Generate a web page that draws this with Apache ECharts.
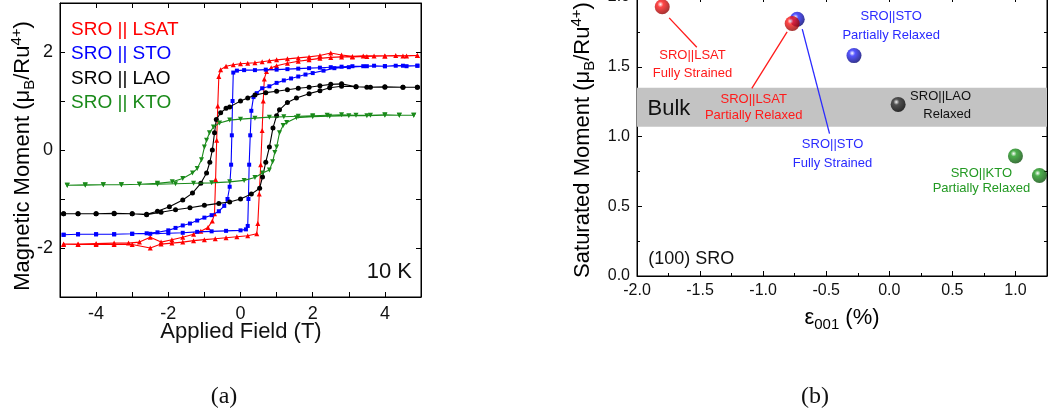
<!DOCTYPE html>
<html><head><meta charset="utf-8">
<script src="https://cdn.jsdelivr.net/npm/echarts@6/dist/echarts.min.js"></script>
<style>html,body{margin:0;padding:0;background:#fff}#c{width:1048px;height:414px}</style>
</head><body><div id="c"></div>
<script>
// ---------- Panel (a): hysteresis loops (H in T, M in muB/Ru4+) ----------
const lsatLoop = [
 [4.9,1.93],[4.6,1.92],[4.3,1.93],[4.0,1.92],[3.7,1.92],[3.4,1.92],[3.1,1.91],[2.8,1.94],[2.5,1.98],[2.2,1.93],[1.9,1.9],[1.6,1.88],[1.3,1.86],[1.0,1.84],[0.8,1.82],[0.6,1.8],[0.4,1.78],[0.2,1.77],[0.0,1.76],[-0.2,1.74],[-0.4,1.71],[-0.55,1.64],[-0.6,1.5],[-0.63,0.9],[-0.66,0.2],[-0.69,-0.6],[-0.72,-1.3],[-0.78,-1.45],[-0.9,-1.58],[-1.1,-1.66],[-1.3,-1.72],[-1.6,-1.78],[-1.9,-1.83],[-2.2,-1.88],[-2.5,-1.78],[-2.8,-1.88],[-3.1,-1.9],[-3.5,-1.9],[-4.0,-1.91],[-4.5,-1.92],[-4.9,-1.92],
 [-4.9,-1.93],[-4.5,-1.93],[-4.0,-1.93],[-3.5,-1.93],[-3.0,-1.93],[-2.5,-2.0],[-2.2,-1.92],[-1.9,-1.9],[-1.6,-1.88],[-1.3,-1.85],[-1.0,-1.83],[-0.7,-1.81],[-0.4,-1.79],[-0.1,-1.77],[0.2,-1.75],[0.45,-1.71],[0.48,-1.5],[0.52,-0.9],[0.56,-0.3],[0.6,0.4],[0.63,1.0],[0.66,1.45],[0.72,1.6],[0.85,1.68],[1.0,1.72],[1.3,1.77],[1.6,1.81],[1.9,1.84],[2.2,1.87],[2.5,1.89],[2.8,1.9],[3.1,1.9],[3.5,1.91],[4.0,1.92],[4.5,1.92],[4.9,1.93]
];
const stoLoop = [
 [4.9,1.72],[4.6,1.71],[4.3,1.72],[4.0,1.71],[3.7,1.72],[3.4,1.71],[3.1,1.71],[2.8,1.7],[2.5,1.69],[2.2,1.68],[1.9,1.67],[1.6,1.66],[1.3,1.65],[1.0,1.64],[0.7,1.64],[0.4,1.63],[0.1,1.63],[-0.1,1.62],[-0.2,1.58],[-0.22,1.0],[-0.24,0.3],[-0.26,-0.3],[-0.3,-0.75],[-0.36,-1.0],[-0.45,-1.14],[-0.6,-1.25],[-0.8,-1.33],[-1.0,-1.38],[-1.2,-1.44],[-1.4,-1.5],[-1.6,-1.54],[-1.8,-1.59],[-2.0,-1.64],[-2.3,-1.68],[-2.6,-1.7],[-3.0,-1.71],[-3.5,-1.72],[-4.0,-1.72],[-4.5,-1.72],[-4.9,-1.73],
 [-4.9,-1.73],[-4.5,-1.72],[-4.0,-1.72],[-3.5,-1.72],[-3.0,-1.71],[-2.5,-1.71],[-2.0,-1.7],[-1.6,-1.69],[-1.2,-1.67],[-0.8,-1.66],[-0.4,-1.65],[0.0,-1.64],[0.15,-1.62],[0.2,-1.55],[0.22,-1.0],[0.24,-0.3],[0.27,0.3],[0.3,0.8],[0.36,1.08],[0.45,1.16],[0.6,1.26],[0.8,1.3],[1.0,1.37],[1.2,1.42],[1.4,1.46],[1.6,1.5],[1.8,1.54],[2.0,1.57],[2.3,1.62],[2.6,1.67],[3.0,1.69],[3.5,1.71],[4.0,1.71],[4.5,1.72],[4.9,1.72]
];
const laoLoop = [
 [4.9,1.28],[4.5,1.28],[4.0,1.29],[3.5,1.28],[3.2,1.29],[2.8,1.35],[2.5,1.34],[2.2,1.31],[1.9,1.28],[1.6,1.26],[1.3,1.23],[1.0,1.2],[0.7,1.17],[0.4,1.12],[0.2,1.06],[0.0,1.0],[-0.3,0.88],[-0.4,0.85],[-0.55,0.76],[-0.67,0.62],[-0.72,0.35],[-0.78,0.0],[-0.85,-0.25],[-0.94,-0.47],[-1.1,-0.68],[-1.33,-0.88],[-1.6,-1.02],[-1.97,-1.16],[-2.3,-1.25],[-2.6,-1.31],[-3.0,-1.3],[-3.5,-1.29],[-4.0,-1.3],[-4.5,-1.3],[-4.9,-1.3],
 [-4.9,-1.3],[-4.5,-1.3],[-4.0,-1.3],[-3.5,-1.3],[-3.0,-1.3],[-2.6,-1.32],[-2.2,-1.27],[-1.8,-1.22],[-1.4,-1.18],[-1.0,-1.13],[-0.6,-1.09],[-0.3,-1.06],[0.0,-1.0],[0.3,-0.9],[0.53,-0.78],[0.61,-0.55],[0.7,-0.25],[0.8,0.06],[0.9,0.45],[1.0,0.7],[1.08,0.82],[1.3,0.97],[1.55,1.06],[1.9,1.15],[2.2,1.21],[2.47,1.27],[2.8,1.3],[3.2,1.29],[3.6,1.28],[4.0,1.28],[4.5,1.28],[4.9,1.28]
];
const ktoLoop = [
 [4.8,0.71],[4.4,0.71],[4.0,0.72],[3.6,0.71],[3.2,0.71],[2.8,0.72],[2.4,0.71],[2.0,0.7],[1.6,0.69],[1.2,0.68],[0.8,0.67],[0.4,0.65],[0.0,0.63],[-0.3,0.61],[-0.58,0.55],[-0.75,0.47],[-0.86,0.35],[-0.94,0.2],[-1.0,0.06],[-1.08,-0.2],[-1.2,-0.38],[-1.33,-0.47],[-1.6,-0.58],[-1.89,-0.65],[-2.3,-0.68],[-2.8,-0.7],[-3.3,-0.71],[-3.8,-0.71],[-4.3,-0.72],[-4.8,-0.72],
 [-4.8,-0.72],[-4.3,-0.71],[-3.8,-0.71],[-3.3,-0.71],[-2.8,-0.7],[-2.3,-0.7],[-1.8,-0.69],[-1.3,-0.68],[-0.8,-0.67],[-0.3,-0.65],[0.1,-0.62],[0.4,-0.56],[0.61,-0.47],[0.8,-0.41],[0.89,-0.24],[0.95,-0.05],[1.0,0.06],[1.08,0.35],[1.18,0.5],[1.28,0.56],[1.55,0.66],[2.0,0.68],[2.47,0.69],[3.0,0.7],[3.5,0.7],[4.0,0.71],[4.4,0.71],[4.8,0.71]
];
const loopNames = ['SRO || LSAT','SRO || STO','SRO || LAO','SRO || KTO'];

// ---------- Panel (b): saturated moment vs strain ----------
const strainLSAT = [[-1.8,1.93],[-0.77,1.81]];
const strainSTO  = [[-0.73,1.84],[-0.28,1.58]];
const strainLAO  = [[0.07,1.23]];
const strainKTO  = [[1.0,0.86],[1.19,0.72]];
const bulkRange  = [1.07,1.35];
const xTicksA = [-4,-2,0,2,4];
const yTicksA = [-2,0,2];

// annotation anchors (data coords of panel b)
const notes = [
 {t:'SRO||LSAT\nFully Strained', at:[-1.56,1.52], c:'#ff1a1a', lh:18},
 {t:'SRO||LSAT\nPartially Relaxed', at:[-1.075,1.21], c:'#ff1a1a', lh:16},
 {t:'SRO||STO\nFully Strained', at:[-0.45,0.875], c:'#2a2aff', lh:19},
 {t:'SRO||STO\nPartially Relaxed', at:[0.015,1.79], c:'#2a2aff', lh:19},
 {t:'SRO||LAO\nRelaxed', at:[0.648,1.223], c:'#111', lh:18, align:'right'},
 {t:'SRO||KTO\nPartially Relaxed', at:[0.73,0.68], c:'#229922', lh:15}
];
const arrows = [
 {from:[-1.526,1.64], to:[-1.745,1.85], c:'#ff1a1a'},
 {from:[-1.09,1.345], to:[-0.81,1.75], c:'#ff1a1a'},
 {from:[-0.474,1.02], to:[-0.69,1.77], c:'#2a2aff'}
];

const FONT = "'Liberation Sans', Arial, sans-serif";
const colA = ['#ff0000','#0000ff','#000000','#1a8a1a'];
const symA = ['triangle','rect','circle','triangle'];

function ball(base, dark){
  return {type:'radial', x:0.38, y:0.34, r:0.7, colorStops:[
    {offset:0,color:'#ffffff'},{offset:0.28,color:base},{offset:1,color:dark}]};
}

const chart = echarts.init(document.getElementById('c'), null, {renderer:'canvas'});

function valAxis(o){
  return Object.assign({
    type:'value', scale:false,
    axisLine:{show:true, onZero:false, lineStyle:{color:'#000', width:1}},
    axisTick:{show:true, inside:true, length:5, lineStyle:{color:'#000'}},
    splitLine:{show:false},
    axisLabel:{color:'#111', fontFamily:FONT}
  }, o);
}

const xAxes = [
  valAxis({gridIndex:0, position:'bottom', min:-5, max:5, interval:1,
    axisLabel:{color:'#111', fontFamily:FONT, fontSize:18, margin:8,
      formatter:v=> xTicksA.includes(v) ? String(v) : ''}}),
  valAxis({gridIndex:0, position:'top', min:-5, max:5, interval:1, axisLabel:{show:false}}),
  valAxis({gridIndex:1, position:'bottom', min:-2, max:1.25, interval:0.5,
    minorTick:{show:true, splitNumber:2, length:3, lineStyle:{color:'#000'}},
    axisLabel:{color:'#111', fontFamily:FONT, fontSize:16, margin:7, showMaxLabel:false,
      formatter:v=>v.toFixed(1)}}),
  valAxis({gridIndex:1, position:'top', min:-2, max:1.25, interval:0.5,
    minorTick:{show:true, splitNumber:2, length:3, lineStyle:{color:'#000'}}, axisLabel:{show:false}})
];
const yAxes = [
  valAxis({gridIndex:0, position:'left', min:-3, max:3, interval:1,
    axisLabel:{color:'#111', fontFamily:FONT, fontSize:18, margin:7,
      formatter:v=> yTicksA.includes(v) ? String(v) : ''}}),
  valAxis({gridIndex:0, position:'right', min:-3, max:3, interval:1, axisLabel:{show:false}}),
  valAxis({gridIndex:1, position:'left', min:0, max:2, interval:0.5,
    minorTick:{show:true, splitNumber:2, length:3, lineStyle:{color:'#000'}},
    axisLabel:{color:'#111', fontFamily:FONT, fontSize:16, margin:7, formatter:v=>v.toFixed(1)}}),
  valAxis({gridIndex:1, position:'right', min:0, max:2, interval:0.5,
    minorTick:{show:true, splitNumber:2, length:3, lineStyle:{color:'#000'}}, axisLabel:{show:false}})
];

const loops = [lsatLoop, stoLoop, laoLoop, ktoLoop];
const series = loops.map((d,i)=>({
  name: loopNames[i], type:'line', xAxisIndex:0, yAxisIndex:0, data:d,
  symbol: symA[i], symbolSize: i===1?4:5, symbolRotate: i===3?180:0, showAllSymbol:true,
  lineStyle:{color:colA[i], width:1.1}, itemStyle:{color:colA[i]}, animation:false, z:3+i
}));

function notePoints(list){
  return list.map(n=>({coord:n.at, symbol:'circle', symbolSize:1, itemStyle:{color:'rgba(0,0,0,0)'},
    label:{show:true, position:'inside', formatter:n.t, color:n.c, fontSize:13, lineHeight:n.lh,
      fontFamily:FONT, align:n.align||'center'}}));
}
function arrowLines(list){
  return list.map(a=>[{coord:a.from, lineStyle:{color:a.c, width:1.3, type:'solid'}},{coord:a.to}]);
}
const mlBase = {silent:true, symbol:['none','arrow'], symbolSize:[0,8], label:{show:false}, animation:false};

series.push({
  name:'LAO', type:'scatter', xAxisIndex:2, yAxisIndex:2, data:strainLAO, symbolSize:15,
  itemStyle:{color:ball('#333333','#000000')}, animation:false, z:5,
  markArea:{silent:true, itemStyle:{color:'#c3c3c3', opacity:1},
    data:[[{yAxis:bulkRange[0]},{yAxis:bulkRange[1]}]], z:1},
  markPoint:{silent:true, animation:false, data:[
    ...notePoints([notes[4]]),
    {coord:[-1.747,1.2], symbol:'circle', symbolSize:1, itemStyle:{color:'rgba(0,0,0,0)'},
      label:{show:true, position:'inside', formatter:'Bulk', color:'#111', fontSize:22, fontFamily:FONT}},
    {coord:[-1.57,0.12], symbol:'circle', symbolSize:1, itemStyle:{color:'rgba(0,0,0,0)'},
      label:{show:true, position:'inside', formatter:'(100) SRO', color:'#111', fontSize:18, fontFamily:FONT}}
  ]}
});
series.push({
  name:'KTO', type:'scatter', xAxisIndex:2, yAxisIndex:2, data:strainKTO, symbolSize:15,
  itemStyle:{color:ball('#1f9a1f','#0a4a0a')}, animation:false, z:5,
  markPoint:{silent:true, animation:false, data:notePoints([notes[5]])}
});
series.push({
  name:'STO', type:'scatter', xAxisIndex:2, yAxisIndex:2, data:strainSTO, symbolSize:15,
  itemStyle:{color:ball('#2a2aff','#00006a')}, animation:false, z:5,
  markPoint:{silent:true, animation:false, data:notePoints([notes[2],notes[3]])},
  markLine:Object.assign({}, mlBase, {data:arrowLines([arrows[2]])})
});
series.push({
  name:'LSAT', type:'scatter', xAxisIndex:2, yAxisIndex:2, data:strainLSAT, symbolSize:15,
  itemStyle:{color:ball('#ff1a1a','#8a0000')}, animation:false, z:6,
  markPoint:{silent:true, animation:false, data:notePoints([notes[0],notes[1]])},
  markLine:Object.assign({}, mlBase, {data:arrowLines([arrows[0],arrows[1]])})
});

const nameRich = {
  n:{fontSize:22, fontFamily:FONT, color:'#111', lineHeight:28, verticalAlign:'middle'},
  s:{fontSize:15, fontFamily:FONT, color:'#111', lineHeight:12, verticalAlign:'bottom'},
  p:{fontSize:15, fontFamily:FONT, color:'#111', lineHeight:12, verticalAlign:'top'}
};

chart.setOption({
  backgroundColor:'#fff',
  animation:false,
  grid:[
    {left:60, top:3, width:361, height:294, show:true, borderColor:'#000', borderWidth:1, backgroundColor:'transparent', containLabel:false, outerBoundsMode:'none'},
    {left:637, top:-3, width:410, height:279, show:true, borderColor:'#000', borderWidth:1, backgroundColor:'transparent', containLabel:false, outerBoundsMode:'none'}
  ],
  xAxis:xAxes, yAxis:yAxes,
  legend:{show:true, orient:'vertical', left:66, top:20, padding:0, itemGap:5.5, itemWidth:0, itemHeight:18,
    selectedMode:false, icon:'rect',
    textStyle:{fontSize:19, fontFamily:FONT},
    data:loopNames.map((n,i)=>({name:n, textStyle:{color:colA[i]}}))},
  series:series,
  graphic:[
    {type:'text', x:23, y:156, rotation:Math.PI/2, style:{text:'{n|Magnetic Moment (μ}{s|B}{n|/Ru}{p|4+}{n|)}', rich:nameRich, align:'center', verticalAlign:'middle'}},
    {type:'text', x:241, y:332, style:{text:'Applied Field (T)', font:"22px "+FONT, fill:'#111', align:'center', verticalAlign:'middle'}},
    {type:'text', x:412, y:272, style:{text:'10 K', font:"22px "+FONT, fill:'#111', align:'right', verticalAlign:'middle'}},
    {type:'text', x:583, y:140, rotation:Math.PI/2, style:{text:'{n|Saturated Moment (μ}{s|B}{n|/Ru}{p|4+}{n|)}', rich:nameRich, align:'center', verticalAlign:'middle'}},
    {type:'text', x:842, y:318, style:{text:'{n|ε}{s|001}{n| (%)}', rich:nameRich, align:'center', verticalAlign:'middle'}},
    {type:'text', x:224, y:397, style:{text:'(a)', font:"24px 'Liberation Serif', 'DejaVu Serif', serif", fill:'#111', align:'center', verticalAlign:'middle'}},
    {type:'text', x:815, y:397, style:{text:'(b)', font:"24px 'Liberation Serif', 'DejaVu Serif', serif", fill:'#111', align:'center', verticalAlign:'middle'}}
  ]
});
</script>
</body></html>
